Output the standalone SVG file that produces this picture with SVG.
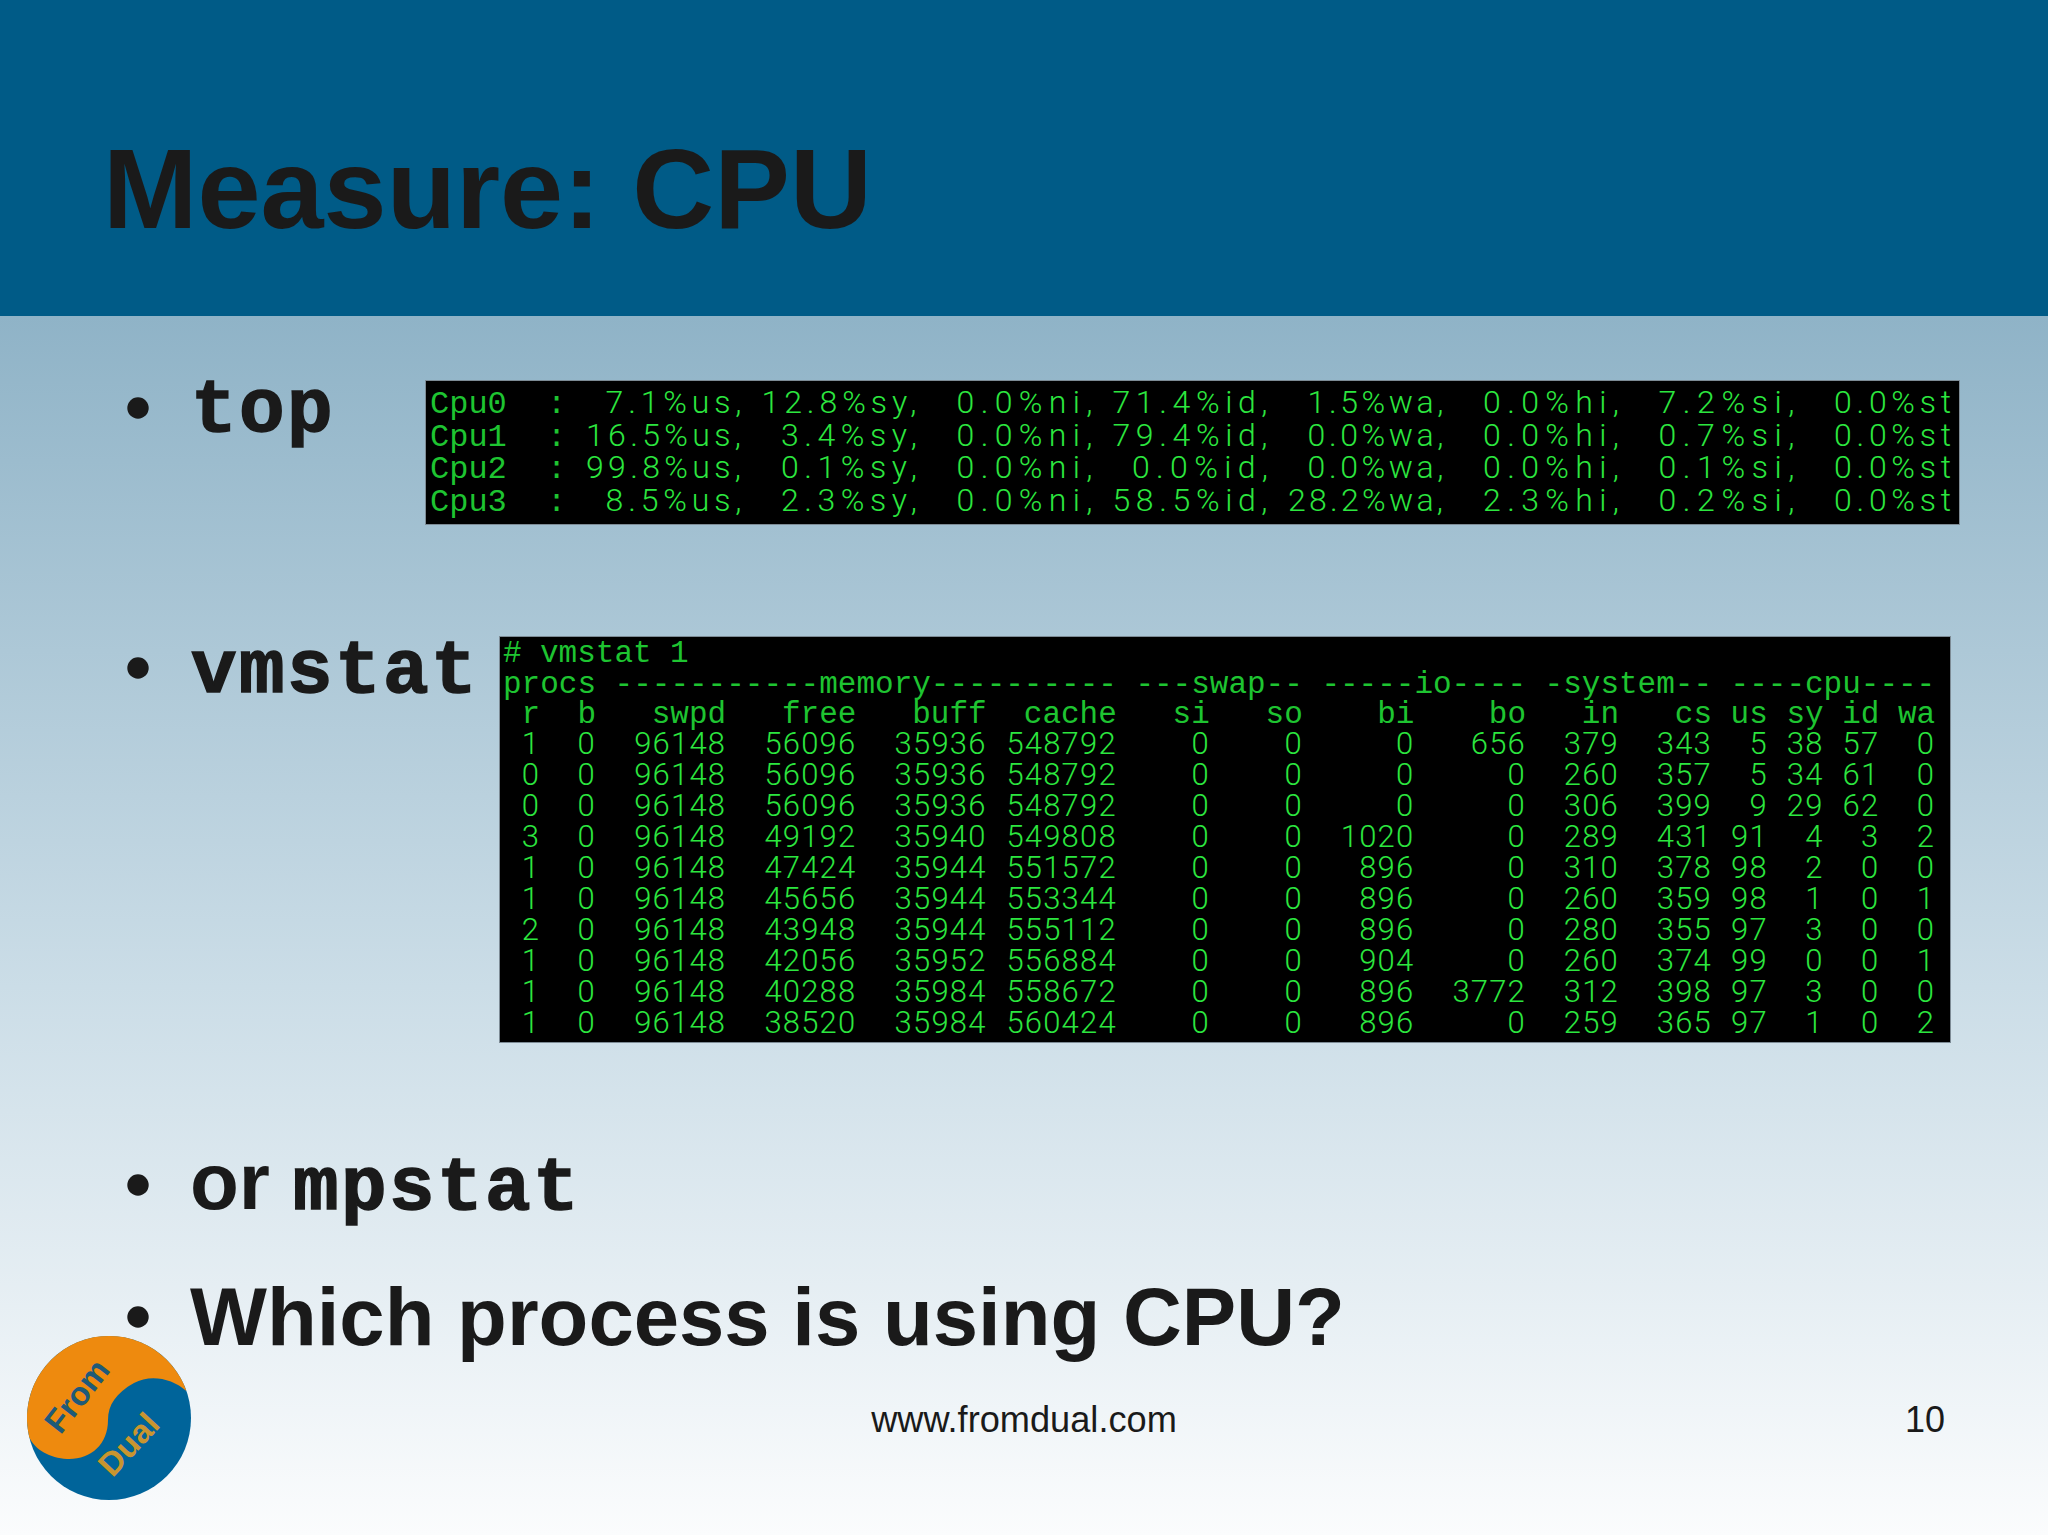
<svg xmlns="http://www.w3.org/2000/svg" width="2048" height="1535" viewBox="0 0 2048 1535">
<defs>
<linearGradient id="bg" x1="0" y1="316" x2="0" y2="1535" gradientUnits="userSpaceOnUse"><stop offset="0" stop-color="#8fb3c7"/><stop offset="0.55" stop-color="#cbdde7"/><stop offset="1" stop-color="#fbfcfd"/></linearGradient>
</defs>
<style>
.sans{font-family:"Liberation Sans",Arial,sans-serif;fill:#1a1a1a}
.b{font-weight:700}
.code{font-family:"Liberation Mono","Courier New",monospace;font-weight:700;fill:#1a1a1a;stroke:#1a1a1a;stroke-width:1.5px;font-size:76px;letter-spacing:2.4px}
.term{font-family:"Liberation Mono","Courier New",monospace;fill:#1ec431}
.val{font-family:Roboto,"Liberation Sans",sans-serif;font-weight:300;fill:#2ce63f}
.t1{font-size:32px}
.t2{font-size:31px}
.num{letter-spacing:1.2px;text-anchor:end}
.end{text-anchor:end}
.shot{fill:#000;stroke:#7d8b95;stroke-width:1}
.bullet{fill:#1a1a1a}
</style>
<rect width="2048" height="1535" fill="url(#bg)"/>
<rect id="header" width="2048" height="316" fill="#005b87"/>
<text id="title" class="sans b" x="103" y="228" font-size="113.4">Measure: CPU</text>

<g id="item-top">
<circle class="bullet" cx="138" cy="408" r="10.7"/>
<text class="code" x="191" y="431">top</text>
<rect class="shot" x="425.5" y="380.5" width="1534" height="144"/>
<g class="term t1">
<text x="430" y="413">Cpu0</text><text x="547" y="413">:</text>
<text x="430" y="446">Cpu1</text><text x="547" y="446">:</text>
<text x="430" y="478">Cpu2</text><text x="547" y="478">:</text>
<text x="430" y="511">Cpu3</text><text x="547" y="511">:</text>
</g>
<g class="val t1">
<text y="413"><tspan x="605.5" textLength="136">7.1%us,</tspan> <tspan x="761.5" textLength="155">12.8%sy,</tspan> <tspan x="956.5" textLength="136">0.0%ni,</tspan> <tspan x="1112.5" textLength="155">71.4%id,</tspan> <tspan x="1307.5" textLength="136">1.5%wa,</tspan> <tspan x="1483" textLength="136">0.0%hi,</tspan> <tspan x="1658.5" textLength="136">7.2%si,</tspan> <tspan x="1834" textLength="117">0.0%st</tspan></text>
<text y="446"><tspan x="586" textLength="155">16.5%us,</tspan> <tspan x="781" textLength="136">3.4%sy,</tspan> <tspan x="956.5" textLength="136">0.0%ni,</tspan> <tspan x="1112.5" textLength="155">79.4%id,</tspan> <tspan x="1307.5" textLength="136">0.0%wa,</tspan> <tspan x="1483" textLength="136">0.0%hi,</tspan> <tspan x="1658.5" textLength="136">0.7%si,</tspan> <tspan x="1834" textLength="117">0.0%st</tspan></text>
<text y="478"><tspan x="586" textLength="155">99.8%us,</tspan> <tspan x="781" textLength="136">0.1%sy,</tspan> <tspan x="956.5" textLength="136">0.0%ni,</tspan> <tspan x="1132" textLength="136">0.0%id,</tspan> <tspan x="1307.5" textLength="136">0.0%wa,</tspan> <tspan x="1483" textLength="136">0.0%hi,</tspan> <tspan x="1658.5" textLength="136">0.1%si,</tspan> <tspan x="1834" textLength="117">0.0%st</tspan></text>
<text y="511"><tspan x="605.5" textLength="136">8.5%us,</tspan> <tspan x="781" textLength="136">2.3%sy,</tspan> <tspan x="956.5" textLength="136">0.0%ni,</tspan> <tspan x="1112.5" textLength="155">58.5%id,</tspan> <tspan x="1288" textLength="155">28.2%wa,</tspan> <tspan x="1483" textLength="136">2.3%hi,</tspan> <tspan x="1658.5" textLength="136">0.2%si,</tspan> <tspan x="1834" textLength="117">0.0%st</tspan></text>
</g>
</g>

<g id="item-vmstat">
<circle class="bullet" cx="138" cy="668" r="10.7"/>
<text class="code" x="191" y="692">vmstat</text>
<rect class="shot" x="499.5" y="636.5" width="1451" height="406"/>
<g class="term t2">
<text x="503" y="662">#</text><text x="540" y="662">vmstat</text><text x="670" y="662">1</text>
<text x="503" y="693">procs</text><text x="614.6" y="693">-----------memory----------</text><text x="1135.4" y="693">---swap--</text><text x="1321.4" y="693">-----io----</text><text x="1544.6" y="693">-system--</text><text x="1730.6" y="693">----cpu----</text>
</g>
<g class="term t2 end">
<text y="723" x="540.2">r</text><text y="723" x="596">b</text><text y="723" x="726.2">swpd</text><text y="723" x="856.4">free</text><text y="723" x="986.6">buff</text><text y="723" x="1116.8">cache</text><text y="723" x="1209.8">si</text><text y="723" x="1302.8">so</text><text y="723" x="1414.4">bi</text><text y="723" x="1526">bo</text><text y="723" x="1619">in</text><text y="723" x="1712">cs</text><text y="723" x="1767.8">us</text><text y="723" x="1823.6">sy</text><text y="723" x="1879.4">id</text><text y="723" x="1935.2">wa</text>
</g>
<g class="val t2 num">
<text y="754" x="540.2">1</text><text y="754" x="596">0</text><text y="754" x="726.2">96148</text><text y="754" x="856.4">56096</text><text y="754" x="986.6">35936</text><text y="754" x="1116.8">548792</text><text y="754" x="1209.8">0</text><text y="754" x="1302.8">0</text><text y="754" x="1414.4">0</text><text y="754" x="1526">656</text><text y="754" x="1619">379</text><text y="754" x="1712">343</text><text y="754" x="1767.8">5</text><text y="754" x="1823.6">38</text><text y="754" x="1879.4">57</text><text y="754" x="1935.2">0</text>
<text y="785" x="540.2">0</text><text y="785" x="596">0</text><text y="785" x="726.2">96148</text><text y="785" x="856.4">56096</text><text y="785" x="986.6">35936</text><text y="785" x="1116.8">548792</text><text y="785" x="1209.8">0</text><text y="785" x="1302.8">0</text><text y="785" x="1414.4">0</text><text y="785" x="1526">0</text><text y="785" x="1619">260</text><text y="785" x="1712">357</text><text y="785" x="1767.8">5</text><text y="785" x="1823.6">34</text><text y="785" x="1879.4">61</text><text y="785" x="1935.2">0</text>
<text y="816" x="540.2">0</text><text y="816" x="596">0</text><text y="816" x="726.2">96148</text><text y="816" x="856.4">56096</text><text y="816" x="986.6">35936</text><text y="816" x="1116.8">548792</text><text y="816" x="1209.8">0</text><text y="816" x="1302.8">0</text><text y="816" x="1414.4">0</text><text y="816" x="1526">0</text><text y="816" x="1619">306</text><text y="816" x="1712">399</text><text y="816" x="1767.8">9</text><text y="816" x="1823.6">29</text><text y="816" x="1879.4">62</text><text y="816" x="1935.2">0</text>
<text y="847" x="540.2">3</text><text y="847" x="596">0</text><text y="847" x="726.2">96148</text><text y="847" x="856.4">49192</text><text y="847" x="986.6">35940</text><text y="847" x="1116.8">549808</text><text y="847" x="1209.8">0</text><text y="847" x="1302.8">0</text><text y="847" x="1414.4">1020</text><text y="847" x="1526">0</text><text y="847" x="1619">289</text><text y="847" x="1712">431</text><text y="847" x="1767.8">91</text><text y="847" x="1823.6">4</text><text y="847" x="1879.4">3</text><text y="847" x="1935.2">2</text>
<text y="878" x="540.2">1</text><text y="878" x="596">0</text><text y="878" x="726.2">96148</text><text y="878" x="856.4">47424</text><text y="878" x="986.6">35944</text><text y="878" x="1116.8">551572</text><text y="878" x="1209.8">0</text><text y="878" x="1302.8">0</text><text y="878" x="1414.4">896</text><text y="878" x="1526">0</text><text y="878" x="1619">310</text><text y="878" x="1712">378</text><text y="878" x="1767.8">98</text><text y="878" x="1823.6">2</text><text y="878" x="1879.4">0</text><text y="878" x="1935.2">0</text>
<text y="909" x="540.2">1</text><text y="909" x="596">0</text><text y="909" x="726.2">96148</text><text y="909" x="856.4">45656</text><text y="909" x="986.6">35944</text><text y="909" x="1116.8">553344</text><text y="909" x="1209.8">0</text><text y="909" x="1302.8">0</text><text y="909" x="1414.4">896</text><text y="909" x="1526">0</text><text y="909" x="1619">260</text><text y="909" x="1712">359</text><text y="909" x="1767.8">98</text><text y="909" x="1823.6">1</text><text y="909" x="1879.4">0</text><text y="909" x="1935.2">1</text>
<text y="940" x="540.2">2</text><text y="940" x="596">0</text><text y="940" x="726.2">96148</text><text y="940" x="856.4">43948</text><text y="940" x="986.6">35944</text><text y="940" x="1116.8">555112</text><text y="940" x="1209.8">0</text><text y="940" x="1302.8">0</text><text y="940" x="1414.4">896</text><text y="940" x="1526">0</text><text y="940" x="1619">280</text><text y="940" x="1712">355</text><text y="940" x="1767.8">97</text><text y="940" x="1823.6">3</text><text y="940" x="1879.4">0</text><text y="940" x="1935.2">0</text>
<text y="971" x="540.2">1</text><text y="971" x="596">0</text><text y="971" x="726.2">96148</text><text y="971" x="856.4">42056</text><text y="971" x="986.6">35952</text><text y="971" x="1116.8">556884</text><text y="971" x="1209.8">0</text><text y="971" x="1302.8">0</text><text y="971" x="1414.4">904</text><text y="971" x="1526">0</text><text y="971" x="1619">260</text><text y="971" x="1712">374</text><text y="971" x="1767.8">99</text><text y="971" x="1823.6">0</text><text y="971" x="1879.4">0</text><text y="971" x="1935.2">1</text>
<text y="1002" x="540.2">1</text><text y="1002" x="596">0</text><text y="1002" x="726.2">96148</text><text y="1002" x="856.4">40288</text><text y="1002" x="986.6">35984</text><text y="1002" x="1116.8">558672</text><text y="1002" x="1209.8">0</text><text y="1002" x="1302.8">0</text><text y="1002" x="1414.4">896</text><text y="1002" x="1526">3772</text><text y="1002" x="1619">312</text><text y="1002" x="1712">398</text><text y="1002" x="1767.8">97</text><text y="1002" x="1823.6">3</text><text y="1002" x="1879.4">0</text><text y="1002" x="1935.2">0</text>
<text y="1033" x="540.2">1</text><text y="1033" x="596">0</text><text y="1033" x="726.2">96148</text><text y="1033" x="856.4">38520</text><text y="1033" x="986.6">35984</text><text y="1033" x="1116.8">560424</text><text y="1033" x="1209.8">0</text><text y="1033" x="1302.8">0</text><text y="1033" x="1414.4">896</text><text y="1033" x="1526">0</text><text y="1033" x="1619">259</text><text y="1033" x="1712">365</text><text y="1033" x="1767.8">97</text><text y="1033" x="1823.6">1</text><text y="1033" x="1879.4">0</text><text y="1033" x="1935.2">2</text>
</g>
</g>

<g id="item-mpstat">
<circle class="bullet" cx="138" cy="1185" r="10.7"/>
<text class="sans b" x="190" y="1209" font-size="80">or</text>
<text class="code" x="293" y="1209">mpstat</text>
</g>

<g id="item-question">
<circle class="bullet" cx="138" cy="1317" r="10.7"/>
<text class="sans b" x="190" y="1345" font-size="81.5">Which process is using CPU?</text>
</g>

<g id="logo">
<circle cx="109" cy="1418" r="82" fill="#00649a"/>
<path d="M29.2 1437 A82 82 0 0 1 186.4 1391 C172 1378 150 1374 134 1383 C116 1393 108 1405 108 1420 C108 1445 90 1460 67 1459 C50 1458 35 1450 29.2 1437 Z" fill="#ee8a0e"/>
<text class="sans b" transform="translate(86 1403) rotate(-52)" text-anchor="middle" font-size="33" style="fill:#1f5a78">From</text>
<text class="sans b" transform="translate(137 1452) rotate(-47)" text-anchor="middle" font-size="33" style="fill:#c9952f">Dual</text>
</g>

<g id="footer">
<text class="sans" x="1024" y="1432" font-size="36.2" text-anchor="middle">www.fromdual.com</text>
<text class="sans" x="1945" y="1432" font-size="36" text-anchor="end">10</text>
</g>
</svg>
